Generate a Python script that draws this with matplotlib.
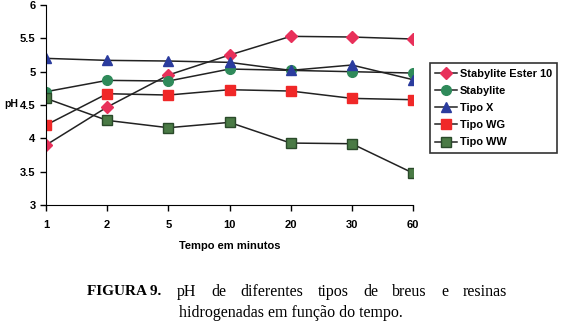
import matplotlib.pyplot as plt

plt.rcParams['font.family'] = ['Liberation Sans', 'DejaVu Sans']

tempos = ["1", "2", "5", "10", "20", "30", "60"]

ester10 = [3.9, 4.47, 4.95, 5.25, 5.53, 5.52, 5.49]
stabylite = [4.7, 4.87, 4.86, 5.04, 5.02, 5.0, 4.98]
tipo_x = [5.2, 5.17, 5.16, 5.14, 5.02, 5.1, 4.88]
tipo_wg = [4.2, 4.67, 4.65, 4.73, 4.71, 4.6, 4.58]
tipo_ww = [4.6, 4.27, 4.16, 4.24, 3.93, 3.92, 3.48]

series = [
    ("Stabylite Ester 10", ester10, "D", "#e8305a", "#e8305a", 6),
    ("Stabylite", stabylite, "o", "#2f8a5a", "#2f8a5a", 7),
    ("Tipo X", tipo_x, "^", "#2b3c9e", "#2b3c9e", 7),
    ("Tipo WG", tipo_wg, "s", "#f02828", "#f02828", 7.5),
    ("Tipo WW", tipo_ww, "s", "#4a7a45", "#2a4a2a", 6.5),
]

fig = plt.figure(figsize=(5.65, 3.34), dpi=100)
ax = fig.add_axes([0.0814, 0.386, 0.6496, 0.599])

x = list(range(len(tempos)))
for name, vals, mk, col, edge, ms in series:
    ax.plot(x, vals, color="#222222", lw=1.1, marker=mk, markersize=ms,
            markerfacecolor=col, markeredgecolor=edge, label=name)

ax.set_xlim(0, len(tempos) - 1)
ax.set_ylim(3, 6)
ax.set_xticks(x)
ax.set_xticklabels(tempos)
ax.set_yticks([3, 3.5, 4, 4.5, 5, 5.5, 6])
ax.set_yticklabels(["3", "3.5", "4", "4.5", "5", "5.5", "6"])
ax.spines['top'].set_visible(False)
ax.spines['right'].set_visible(False)
ax.tick_params(labelsize=8, width=1, length=4)
ax.tick_params(axis='x', pad=7)
for t in ax.get_xticklabels() + ax.get_yticklabels():
    t.set_fontweight('bold')

ax.set_xlabel("Tempo em minutos", fontsize=8, fontweight='bold', labelpad=8)
fig.text(0.007, 0.689, "pH", fontsize=7.5, fontweight='bold', va='center')

leg = ax.legend(loc='upper left', bbox_to_anchor=(1.046, 0.71),
                borderaxespad=0, frameon=True, fancybox=False,
                edgecolor='black', handlelength=2.0, handletextpad=0.2,
                borderpad=0.5, labelspacing=0.66,
                prop={'weight': 'bold', 'size': 7.9})
leg.get_frame().set_linewidth(1.2)

# legenda da figura (primeira linha justificada)
fig.text(87 / 565, 0.126, "FIGURA 9.", fontsize=11, fontweight='bold',
         family='Liberation Serif', va='center')
palavras = ["pH", "de", "diferentes", "tipos", "de", "breus", "e", "resinas"]
inicio, fim = 177, 507
renderer = fig.canvas.get_renderer()
textos = [fig.text(0, 0.126, w, fontsize=11.5, family='Liberation Serif',
                   va='center') for w in palavras]
larg = [t.get_window_extent(renderer).width for t in textos]
gap = (fim - inicio - sum(larg)) / (len(palavras) - 1)
px = inicio
for t, wd in zip(textos, larg):
    t.set_x(px / 565)
    px += wd + gap
fig.text(179 / 565, 0.063, "hidrogenadas em função do tempo.",
         fontsize=11.5, family='Liberation Serif', va='center')

fig.savefig("out.png", dpi=100)
